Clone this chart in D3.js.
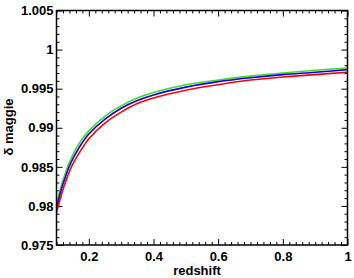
<!DOCTYPE html>
<html>
<head>
<meta charset="utf-8">
<script src="https://cdn.jsdelivr.net/npm/d3@7"></script>
<style>
  body { margin: 0; background: #fff; }
  svg { display: block; }
  text { font-family: "Liberation Sans", Arial, sans-serif; font-weight: bold; }
</style>
</head>
<body>
<svg id="chart" width="354" height="278"></svg>
<script>
// redshift samples
const redshift = [0.10, 0.11, 0.12, 0.13, 0.14, 0.15, 0.175, 0.20, 0.25, 0.30, 0.35, 0.40, 0.50, 0.60, 0.70, 0.80, 0.90, 1.00];
// delta maggie, one array per curve
const greenVals = [0.9801, 0.9819, 0.9833, 0.9845, 0.9856, 0.9865, 0.9883, 0.9896, 0.9915, 0.9928, 0.9938, 0.9945, 0.9955, 0.9961, 0.9966, 0.9970, 0.99735, 0.99765];
const blueVals  = [0.9797, 0.9814, 0.9828, 0.9840, 0.9851, 0.9860, 0.9878, 0.9892, 0.9911, 0.9925, 0.9935, 0.9942, 0.9952, 0.9959, 0.9964, 0.9968, 0.9971, 0.99744];
const redVals   = [0.9791, 0.9807, 0.9821, 0.9833, 0.9844, 0.9853, 0.9871, 0.9886, 0.9906, 0.9920, 0.9931, 0.9938, 0.9948, 0.9955, 0.9961, 0.9965, 0.9968, 0.9971];

const xMajor = [0.2, 0.4, 0.6, 0.8, 1];
const yMajor = [0.975, 0.98, 0.985, 0.99, 0.995, 1, 1.005];

const svg = d3.select("#chart");
const mLeft = 56.5, mRight = 347.5, mTop = 10.5, mBottom = 245;

const x = d3.scaleLinear().domain([0.1, 1]).range([mLeft, mRight]);
const y = d3.scaleLinear().domain([0.975, 1.005]).range([mBottom, mTop]);

// minor ticks
const xMinor = d3.range(0.1, 1.0001, 0.02).map(v => +v.toFixed(2)).filter(v => !xMajor.includes(v));
const yMinor = d3.range(0.975, 1.0051, 0.001).map(v => +v.toFixed(3)).filter(v => !yMajor.includes(v));

const fmt = d => String(+d.toFixed(3));

function styleAxis(g) {
    g.select(".domain").remove();
    g.selectAll("line").attr("stroke", "#000").attr("stroke-width", 1);
    g.selectAll("text").attr("fill", "#000").style("font-size", "13px").style("font-weight", "bold");
}

// bottom
svg.append("g").attr("transform", `translate(0,${mBottom})`)
    .call(d3.axisBottom(x).tickValues(xMajor).tickFormat(fmt).tickSize(-6).tickPadding(6.5))
    .call(styleAxis);
svg.append("g").attr("transform", `translate(0,${mBottom})`)
    .call(d3.axisBottom(x).tickValues(xMinor).tickFormat("").tickSize(-3))
    .call(styleAxis);
// top
svg.append("g").attr("transform", `translate(0,${mTop})`)
    .call(d3.axisTop(x).tickValues(xMajor).tickFormat("").tickSize(-6))
    .call(styleAxis);
svg.append("g").attr("transform", `translate(0,${mTop})`)
    .call(d3.axisTop(x).tickValues(xMinor).tickFormat("").tickSize(-3))
    .call(styleAxis);
// left
svg.append("g").attr("transform", `translate(${mLeft},0)`)
    .call(d3.axisLeft(y).tickValues(yMajor).tickFormat(fmt).tickSize(-6).tickPadding(3))
    .call(styleAxis);
svg.append("g").attr("transform", `translate(${mLeft},0)`)
    .call(d3.axisLeft(y).tickValues(yMinor).tickFormat("").tickSize(-3))
    .call(styleAxis);
// right
svg.append("g").attr("transform", `translate(${mRight},0)`)
    .call(d3.axisRight(y).tickValues(yMajor).tickFormat("").tickSize(-6))
    .call(styleAxis);
svg.append("g").attr("transform", `translate(${mRight},0)`)
    .call(d3.axisRight(y).tickValues(yMinor).tickFormat("").tickSize(-3))
    .call(styleAxis);

// curves
const line = d3.line().x(d => x(d[0])).y(d => y(d[1])).curve(d3.curveCatmullRom);
const series = [
    {vals: greenVals, color: "#44dc1e"},
    {vals: blueVals, color: "#0000ff"},
    {vals: redVals, color: "#ff0000"}
];
series.forEach(s => {
    svg.append("path")
        .datum(redshift.map((z, i) => [z, s.vals[i]]))
        .attr("d", line)
        .attr("fill", "none")
        .attr("stroke", s.color)
        .attr("stroke-width", 1.6);
});

// frame
svg.append("rect")
    .attr("x", mLeft).attr("y", mTop)
    .attr("width", mRight - mLeft).attr("height", mBottom - mTop)
    .attr("fill", "none").attr("stroke", "#000").attr("stroke-width", 1.5);

// axis titles
svg.append("text")
    .attr("x", 197).attr("y", 275.4)
    .attr("text-anchor", "middle")
    .style("font-size", "13px")
    .text("redshift");
svg.append("text")
    .attr("transform", "translate(12.5,127) rotate(-90)")
    .attr("text-anchor", "middle")
    .style("font-size", "13px")
    .text("δ maggie");
</script>
</body>
</html>
